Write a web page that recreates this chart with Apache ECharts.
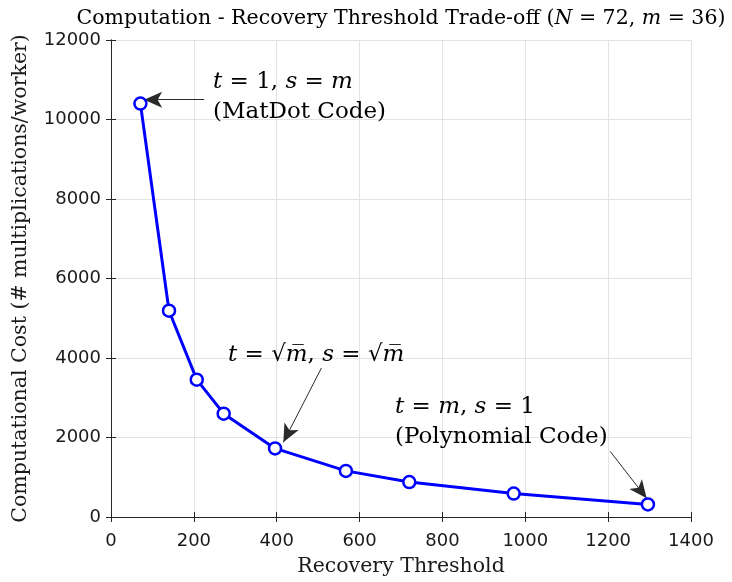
<!DOCTYPE html>
<html><head><meta charset="utf-8">
<script src="https://cdn.jsdelivr.net/npm/echarts@6/dist/echarts.min.js"></script>
<style>html,body{margin:0;padding:0;background:#fff}#c{width:732px;height:582px}</style>
</head><body><div id="c"></div>
<script>
const recoveryThreshold = [71, 140, 207, 272, 396, 567, 720, 972, 1296];
const computationalCost = [10400, 5190, 3455, 2600, 1725, 1160, 880, 590, 315];
const xTicks = [0, 200, 400, 600, 800, 1000, 1200, 1400];
const yTicks = [0, 2000, 4000, 6000, 8000, 10000, 12000];

const chart = echarts.init(document.getElementById('c'));
const serif = '"DejaVu Serif", "Liberation Serif", serif';
const sans = '"DejaVu Sans", "Liberation Sans", sans-serif';
const axisColor = '#262626';
const gridColor = '#e3e3e3';
const textColor = '#1a1a1a';
function txt(x, y, text, size, align) {
  const r = {
    n: {fontFamily: serif, fontSize: size, color: textColor},
    i: {fontFamily: serif, fontSize: size, fontStyle: 'italic', color: textColor}
  };
  return {type: 'text', x: x, y: y, z: 100, style: {text: text, rich: r, align: align || 'left', verticalAlign: 'middle'}};
}
const baseAxis = {
  min: 0, axisLine: {show: true, lineStyle: {color: axisColor, width: 1}},
  axisTick: {show: true, inside: true, length: 5, lineStyle: {color: axisColor}},
  splitLine: {show: true, lineStyle: {color: gridColor, width: 1}}
};
const data = recoveryThreshold.map((x, k) => [x, computationalCost[k]]);
chart.setOption({
  animation: false,
  grid: {left: 111, right: 41, top: 40, bottom: 62},
  xAxis: [
    Object.assign({}, baseAxis, {type: 'value', max: 1400, interval: 200, position: 'bottom',
      axisLabel: {color: textColor, fontFamily: sans, fontSize: 18, margin: 15,
        formatter: v => xTicks.includes(v) ? String(v) : ''},
      name: 'Recovery Threshold', nameLocation: 'middle', nameGap: 39,
      nameTextStyle: {fontFamily: serif, fontSize: 20.5, color: textColor}}),
    Object.assign({}, baseAxis, {type: 'value', max: 1400, interval: 200, position: 'top',
      axisLabel: {show: false}, splitLine: {show: false}})
  ],
  yAxis: [
    Object.assign({}, baseAxis, {type: 'value', max: 12000, interval: 2000, position: 'left',
      axisLabel: {color: textColor, fontFamily: sans, fontSize: 18, margin: 10,
        formatter: v => yTicks.includes(v) ? String(v) : ''},
      name: 'Computational Cost (# multiplications/worker)', nameLocation: 'middle', nameGap: 80,
      nameTextStyle: {fontFamily: serif, fontSize: 20.5, color: textColor}}),
    Object.assign({}, baseAxis, {type: 'value', max: 12000, interval: 2000, position: 'right',
      axisLabel: {show: false}, splitLine: {show: false}})
  ],
  series: [
    {type: 'line', data: data, symbol: 'circle', symbolSize: 12, showSymbol: true,
      lineStyle: {color: '#0000ff', width: 3},
      itemStyle: {color: '#ffffff', borderColor: '#0000ff', borderWidth: 2.5},
      z: 5,
      markLine: {
        silent: true, symbol: ['none', 'arrow'], symbolSize: [12, 18], label: {show: false},
        lineStyle: {color: '#2a2a2a', width: 1, type: 'solid'},
        data: [
          [{coord: [225, 10500]}, {coord: [80, 10500]}],
          [{coord: [508, 3750]}, {coord: [416, 1880]}],
          [{coord: [1205, 1650]}, {coord: [1293, 470]}]
        ]
      }
    }
  ],
  graphic: [
    txt(401, 19, '{n|Computation - Recovery Threshold Trade-off (}{i|N}{n| = 72, }{i|m}{n| = 36)}', 20.5, 'center'),
    txt(213, 82, '{i|t}{n| = 1, }{i|s}{n| = }{i|m}', 23),
    txt(213, 112, '{n|(MatDot Code)}', 23),
    txt(228, 355, '{i|t}{n| = √}{i|m\u0305}{n|, }{i|s}{n| = √}{i|m\u0305}', 23),
    txt(395, 407, '{i|t}{n| = }{i|m}{n|, }{i|s}{n| = 1}', 23),
    txt(395, 437, '{n|(Polynomial Code)}', 23)
  ]
});
</script></body></html>
